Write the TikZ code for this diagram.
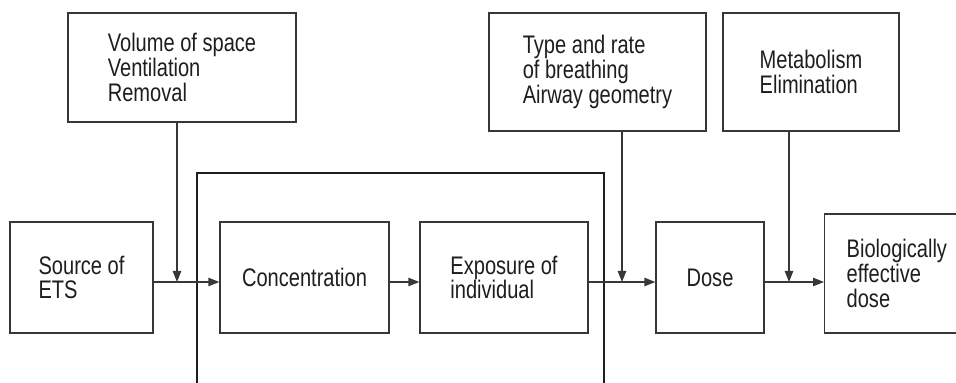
\documentclass[tikz,border=0pt]{standalone}
\usepackage{fontspec}
\setmainfont{Liberation Sans}[FakeStretch=0.79]
\usetikzlibrary{arrows.meta}
\definecolor{ink}{RGB}{30,30,30}
\definecolor{linec}{RGB}{55,55,55}
\begin{document}
\begin{tikzpicture}[x=0.5pt,y=-0.5pt,
  box/.style={draw=linec,line width=0.65pt,inner sep=0pt,align=left,text=ink,
    font=\fontsize{12.7}{12.4}\selectfont},
  arr/.style={draw=linec,line width=0.65pt,-{Triangle[length=5.5pt,width=4.2pt]}},
  ln/.style={draw=linec,line width=0.65pt},
  frame/.style={draw=ink,line width=1.4pt}]
\useasboundingbox (0,0) rectangle (956,383);
\clip (0,0) rectangle (956,383);
\fill[white] (0,0) rectangle (956,383);
% frame
\draw[frame] (197,420) -- (197,173) -- (604,173) -- (604,420);
% boxes
\node[box,minimum width=114pt,minimum height=54.5pt] (vol) at (182,67.5) {Volume of space\\Ventilation\\Removal};
\node[box,minimum width=71.5pt,minimum height=55.5pt] (src) at (81.5,277.5) {Source of\\ETS};
\node[box,minimum width=84.5pt,minimum height=55.5pt] (conc) at (304.5,277.5) {Concentration};
\node[box,minimum width=84pt,minimum height=55.5pt] (expo) at (504,277.5) {Exposure of\\individual};
\node[box,minimum width=108.5pt,minimum height=59pt] (type) at (597.5,72) {Type and rate\\of breathing\\Airway geometry};
\node[box,minimum width=88pt,minimum height=59pt] (meta) at (811,72) {Metabolism\\Elimination};
\node[box,minimum width=54pt,minimum height=55.5pt] (dose) at (710,277.5) {Dose};
\node[box,anchor=west,minimum height=59.5pt,inner xsep=11pt,text width=70pt] (bio) at (824,273.5) {Biologically\\effective\\dose};
% junctions
\coordinate (j1) at (177,282);
\coordinate (j2) at (622,282);
\coordinate (j3) at (789,282);
% connectors
\draw[ln] (src.east |- j1) -- (j1);
\draw[arr] (j1) -- (conc.west |- j1);
\draw[arr] (vol.south -| j1) -- (j1);
\draw[arr] (conc.east |- j1) -- (expo.west |- j1);
\draw[ln] (expo.east |- j2) -- (j2);
\draw[arr] (j2) -- (dose.west |- j2);
\draw[arr] (type.south -| j2) -- (j2);
\draw[ln] (dose.east |- j3) -- (j3);
\draw[arr] (j3) -- (bio.west |- j3);
\draw[arr] (meta.south -| j3) -- (j3);
\end{tikzpicture}
\end{document}
